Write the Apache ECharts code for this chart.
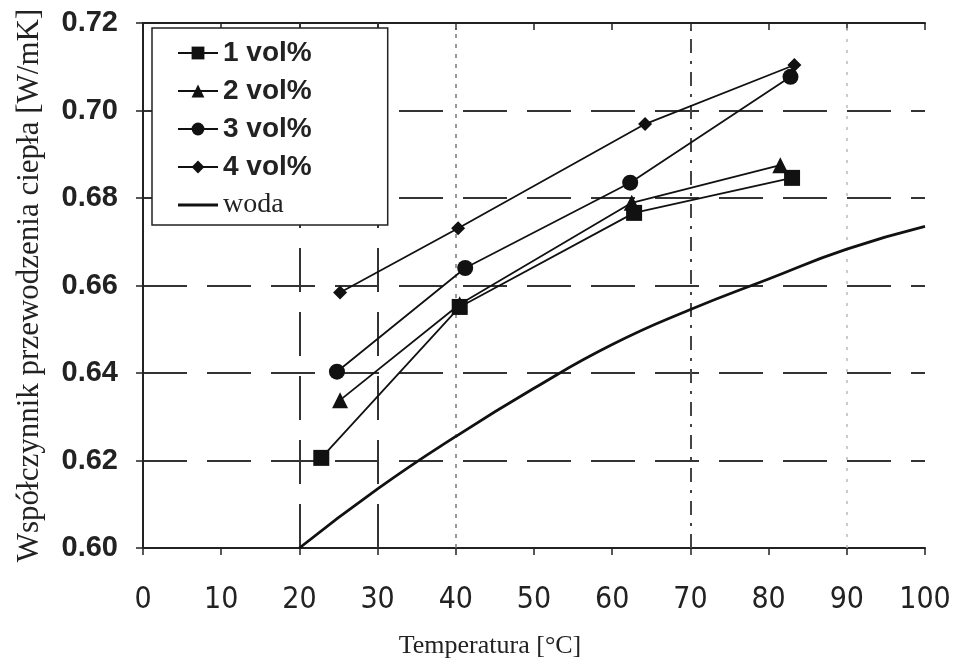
<!DOCTYPE html>
<html><head><meta charset="utf-8">
<script src="https://cdn.jsdelivr.net/npm/echarts@6/dist/echarts.min.js"></script>
<style>html,body{margin:0;padding:0;background:#fff}#c{width:959px;height:659px}</style>
</head><body><div id="c"></div>
<script>
// Data
const s1 = [[22.8,0.6206],[40.5,0.6551],[62.8,0.6766],[83.0,0.6846]];
const s2 = [[25.2,0.6338],[40.5,0.6557],[62.5,0.6789],[81.5,0.6875]];
const s3 = [[24.8,0.6403],[41.2,0.6640],[62.3,0.6835],[82.8,0.7077]];
const s4 = [[25.2,0.6584],[40.3,0.6731],[64.2,0.6969],[83.3,0.7104]];
const woda = [[20,0.600],[30,0.6135],[40,0.6255],[50,0.6365],[60,0.6465],[70,0.6545],[80,0.6615],[90,0.6683],[100,0.6735]];
const seriesNames = ['1 vol%','2 vol%','3 vol%','4 vol%','woda'];
const xTicks = [0,10,20,30,40,50,60,70,80,90,100];
const yTicks = [0.60,0.62,0.64,0.66,0.68,0.70,0.72];

const chart = echarts.init(document.getElementById('c'));
const lc = '#111';
const serif = "'Liberation Serif','Times New Roman',serif";
function mk(name, data, sym, size){
  return {name, type:'line', data, symbol:sym, symbolSize:size, showSymbol:true,
    lineStyle:{color:lc,width:1.8}, itemStyle:{color:lc}, z:5, animation:false};
}
chart.setOption({
  animation:false,
  grid:{left:143,right:34,top:23,bottom:111,containLabel:false,outerBoundsMode:'none'},
  legend:{orient:'vertical', left:152, top:28, padding:[11,76,6,25], itemGap:10,
    itemWidth:40, itemHeight:16, borderColor:'#222', borderWidth:1.5, backgroundColor:'#fff',
    data:seriesNames.map(n => n==='woda' ? {name:n, icon:'path://M0,0L40,0L40,3L0,3Z'} : {name:n}),
    z:10,
    formatter:n => n==='woda' ? '{w|'+n+'}' : '{v|'+n+'}',
    textStyle:{rich:{
      v:{fontFamily:"Arial,'Liberation Sans',sans-serif",fontWeight:'bold',fontSize:28,lineHeight:28,color:'#222'},
      w:{fontFamily:serif,fontSize:28,lineHeight:28,color:'#222'}}}},
  xAxis:[{type:'value', min:0, max:100, interval:10, position:'bottom',
    name:'Temperatura [°C]', nameLocation:'middle', nameGap:85,
    nameTextStyle:{fontFamily:serif,fontSize:26,color:'#222',padding:[0,88,0,0]},
    axisLine:{lineStyle:{color:'#222',width:2}},
    axisTick:{show:true,length:7,lineStyle:{color:'#222',width:1.5}},
    axisLabel:{margin:37,fontFamily:"'Liberation Sans Narrow','DejaVu Sans Condensed',sans-serif",fontSize:30,color:'#222',
      formatter:v=>String(v)},
    splitLine:{show:false}},
   {type:'value', min:0, max:100, interval:10, position:'top',
    axisLine:{show:true,lineStyle:{color:'#222',width:2}},
    axisTick:{show:true,inside:true,length:7,lineStyle:{color:'#222',width:1.5}},
    axisLabel:{show:false}, splitLine:{show:false}}],
  yAxis:[{type:'value', min:0.60, max:0.72, interval:0.02, position:'left',
    name:'Współczynnik przewodzenia ciepła [W/mK]', nameLocation:'middle', nameGap:98,
    nameTextStyle:{fontFamily:serif,fontSize:31,color:'#222'},
    axisLine:{show:true,lineStyle:{color:'#222',width:2}},
    axisTick:{show:true,length:7,lineStyle:{color:'#222',width:1.5}},
    axisLabel:{margin:25,fontFamily:"Arial,'Liberation Sans',sans-serif",fontWeight:'bold',fontSize:29,color:'#222',
      formatter:v=>v.toFixed(2)},
    splitLine:{show:true,lineStyle:{color:'#333',width:2,type:[44,20]}}},
   {type:'value', min:0.60, max:0.72, interval:0.02, position:'right',
    axisLine:{show:true,lineStyle:{color:'#222',width:2}},
    axisTick:{show:true,inside:true,length:7,lineStyle:{color:'#222',width:1.5}},
    axisLabel:{show:false}, splitLine:{show:false}}],
  series:[
    mk('1 vol%', s1, 'rect', 16),
    mk('2 vol%', s2, 'triangle', 16),
    mk('3 vol%', s3, 'circle', 16),
    mk('4 vol%', s4, 'diamond', 14),
    {name:'woda', type:'line', data:woda, smooth:true, symbol:'none', showSymbol:false,
      lineStyle:{color:lc,width:2.8}, itemStyle:{color:lc}, z:4,
      markLine:{silent:true, symbol:'none', label:{show:false}, z:1, data:[
        {xAxis:20, lineStyle:{color:'#333',width:2,type:[44,20]}},
        {xAxis:30, lineStyle:{color:'#333',width:2,type:[44,20]}},
        {xAxis:40, lineStyle:{color:'#777',width:1.5,type:[4,6]}},
        {xAxis:70, lineStyle:{color:'#444',width:2,type:[14,8,3,8]}},
        {xAxis:90, lineStyle:{color:'#bbb',width:1.5,type:[3,8]}}
      ]}}
  ]
});
</script></body></html>
